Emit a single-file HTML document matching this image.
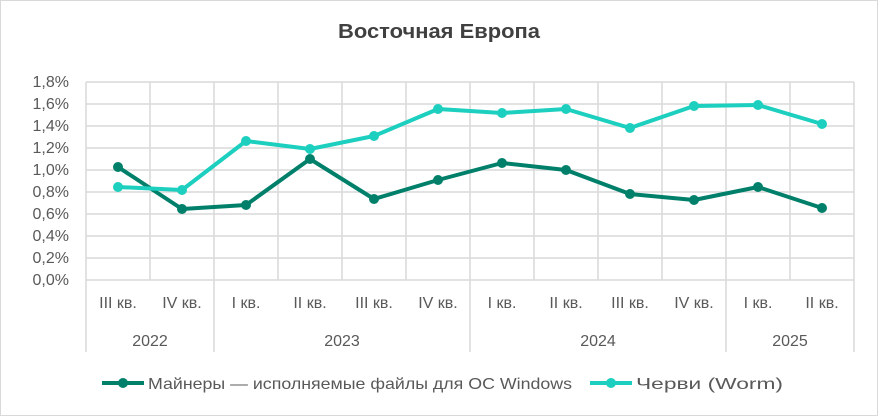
<!DOCTYPE html><html><head><style>body{margin:0;background:#fff}svg{display:block}text{font-family:"Liberation Sans",sans-serif}</style></head><body>
<svg width="878" height="416" viewBox="0 0 878 416">
<rect x="0.5" y="0.5" width="877" height="415" fill="#fff" stroke="#d9d9d9"/>
<text x="338" y="38" font-size="20" font-weight="bold" fill="#404040" textLength="202" lengthAdjust="spacingAndGlyphs">Восточная Европа</text>
<g stroke="#d9d9d9" stroke-width="1.5">
<path d="M86 82H854M86 104H854M86 126H854M86 148H854M86 170H854M86 192H854M86 214H854M86 236H854M86 258H854M86 280H854"/>
<path d="M86 82V352M150 82V280M214 82V352M278 82V280M342 82V280M406 82V280M470 82V352M534 82V280M598 82V280M662 82V280M726 82V352M790 82V280M854 82V352"/>
</g>
<g font-size="16" fill="#595959" text-anchor="end">
<text x="69" y="87">1,8%</text><text x="69" y="109">1,6%</text><text x="69" y="131">1,4%</text><text x="69" y="153">1,2%</text><text x="69" y="175">1,0%</text><text x="69" y="197">0,8%</text><text x="69" y="219">0,6%</text><text x="69" y="241">0,4%</text><text x="69" y="263">0,2%</text><text x="69" y="285">0,0%</text>
</g>
<g font-size="16" fill="#595959" text-anchor="middle">
<text x="118" y="308">III кв.</text><text x="182" y="308">IV кв.</text><text x="246" y="308">I кв.</text><text x="310" y="308">II кв.</text><text x="374" y="308">III кв.</text><text x="438" y="308">IV кв.</text><text x="502" y="308">I кв.</text><text x="566" y="308">II кв.</text><text x="630" y="308">III кв.</text><text x="694" y="308">IV кв.</text><text x="758" y="308">I кв.</text><text x="822" y="308">II кв.</text>
<text x="150" y="346">2022</text><text x="342" y="346">2023</text><text x="598" y="346">2024</text><text x="790" y="346">2025</text>
</g>
<g fill="none" stroke-width="4" stroke-linejoin="round">
<polyline stroke="#00806a" points="118,167 182,209 246,205 310,159 374,199 438,180 502,163 566,170 630,194 694,200 758,187 822,208"/>
<polyline stroke="#1ccfbf" points="118,187 182,190 246,141 310,149 374,136 438,109 502,113 566,109 630,128 694,106 758,105 822,124"/>
</g>
<g fill="#00806a"><circle cx="118" cy="167" r="5"/><circle cx="182" cy="209" r="5"/><circle cx="246" cy="205" r="5"/><circle cx="310" cy="159" r="5"/><circle cx="374" cy="199" r="5"/><circle cx="438" cy="180" r="5"/><circle cx="502" cy="163" r="5"/><circle cx="566" cy="170" r="5"/><circle cx="630" cy="194" r="5"/><circle cx="694" cy="200" r="5"/><circle cx="758" cy="187" r="5"/><circle cx="822" cy="208" r="5"/></g>
<g fill="#1ccfbf"><circle cx="118" cy="187" r="5"/><circle cx="182" cy="190" r="5"/><circle cx="246" cy="141" r="5"/><circle cx="310" cy="149" r="5"/><circle cx="374" cy="136" r="5"/><circle cx="438" cy="109" r="5"/><circle cx="502" cy="113" r="5"/><circle cx="566" cy="109" r="5"/><circle cx="630" cy="128" r="5"/><circle cx="694" cy="106" r="5"/><circle cx="758" cy="105" r="5"/><circle cx="822" cy="124" r="5"/></g>
<line x1="102" y1="383" x2="144" y2="383" stroke="#00806a" stroke-width="4"/><circle cx="123" cy="383" r="5" fill="#00806a"/>
<text x="148" y="389" font-size="16" fill="#595959" textLength="424" lengthAdjust="spacingAndGlyphs">Майнеры — исполняемые файлы для ОС Windows</text>
<line x1="590" y1="383" x2="632" y2="383" stroke="#1ccfbf" stroke-width="4"/><circle cx="611" cy="383" r="5" fill="#1ccfbf"/>
<text x="636" y="389" font-size="16" fill="#595959" textLength="147" lengthAdjust="spacingAndGlyphs">Черви (Worm)</text>
</svg></body></html>
